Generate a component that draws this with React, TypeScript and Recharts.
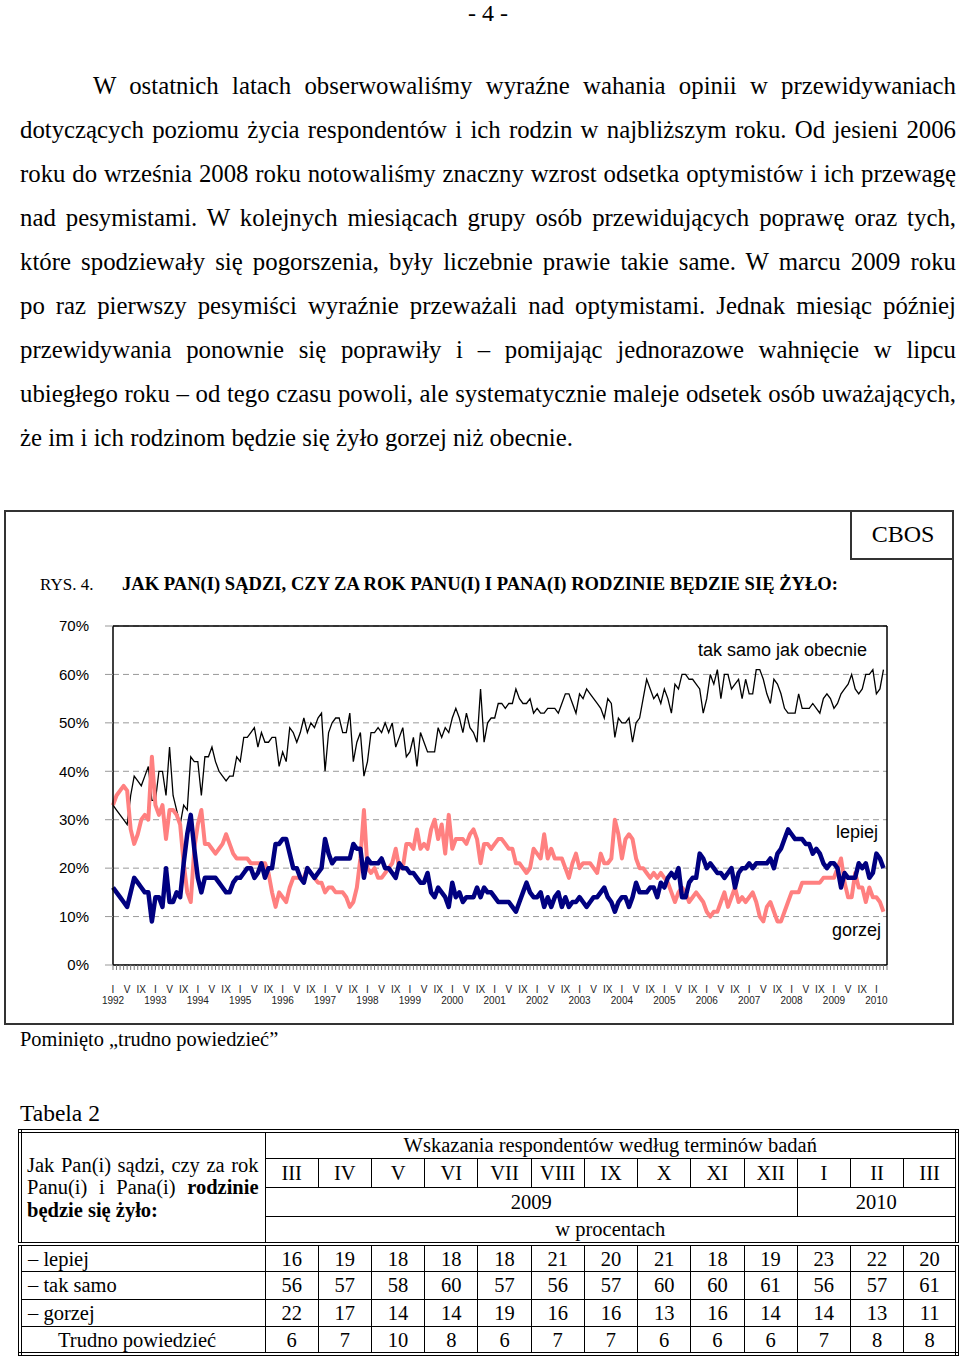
import React from "react"
import { LineChart, Line, XAxis, YAxis, CartesianGrid, ReferenceLine } from "recharts"

// monthly readings, I 1992 – III 2010 (one row per year)
const lepiej = [
  16, 15, 14, 13, 12, 15, 18, 17, 16, 15, 15, 9,
  14, 14, 12, 20, 13, 13, 15, 14, 21, 27, 31, 24,
  18, 15, 18, 18, 18, 18, 17, 16, 15, 15, 17, 18,
  18, 19, 20, 20, 18, 19, 21, 18, 20, 20, 25, 25,
  26, 26, 23, 20, 20, 18, 17, 20, 19, 18, 19, 20,
  26, 23, 21, 22, 22, 22, 22, 22, 25, 24, 24, 18,
  22, 21, 21, 21, 22, 20, 20, 19, 18, 21, 20, 20,
  19, 19, 18, 17, 17, 19, 15, 14, 16, 15, 14, 12,
  17, 14, 15, 13, 14, 14, 14, 16, 14, 16, 15, 15,
  14, 13, 13, 13, 13, 12, 11, 13, 15, 17, 15, 14,
  14, 15, 12, 14, 12, 14, 15, 12, 14, 12, 13, 13,
  14, 13, 12, 13, 14, 14, 15, 16, 14, 13, 11, 13,
  14, 14, 12, 14, 17, 15, 15, 15, 16, 16, 14, 17,
  16, 18, 19, 18, 20, 14, 14, 17, 18, 18, 23, 22,
  20, 21, 20, 19, 19, 18, 19, 20, 16, 19, 20, 20,
  21, 20, 21, 21, 21, 21, 22, 20, 23, 24, 26, 28,
  27, 26, 26, 26, 25, 25, 23, 24, 23, 21, 20, 21,
  21, 20, 16, 19, 18, 18, 18, 21, 20, 21, 18, 19,
  23, 22, 20,
]

const takSamo = [
  33, 32, 31, 30, 29, 35, 39, 38, 37, 39, 41, 34,
  34, 40, 40, 35, 45, 35, 32, 29, 33, 32, 43, 42,
  42, 35, 43, 43, 45, 42, 40, 39, 38, 39, 39, 43,
  42, 47, 47, 48, 49, 45, 48, 46, 46, 47, 47, 41,
  44, 42, 49, 48, 46, 48, 51, 48, 50, 49, 51, 52,
  40, 48, 50, 51, 51, 48, 48, 52, 42, 46, 48, 39,
  42, 48, 48, 49, 48, 50, 48, 50, 45, 47, 49, 43,
  44, 47, 41, 48, 46, 44, 44, 44, 49, 47, 49, 48,
  51, 53, 51, 48, 52, 49, 48, 46, 57, 46, 50, 51,
  51, 54, 54, 53, 54, 54, 57, 55, 54, 54, 55, 52,
  53, 52, 52, 53, 53, 53, 52, 54, 56, 56, 54, 52,
  56, 55, 57, 56, 55, 54, 53, 51, 55, 54, 47, 51,
  50, 50, 51, 46, 50, 51, 55, 59, 57, 55, 56, 54,
  57, 55, 52, 58, 57, 60, 60, 59, 59, 58, 57, 52,
  55, 60, 58, 61, 55, 60, 60, 57, 58, 59, 55, 59,
  56, 56, 61, 61, 59, 56, 54, 59, 58, 56, 53, 52,
  52, 52, 56, 53, 53, 53, 54, 53, 52, 55, 56, 55,
  53, 54, 56, 57, 58, 60, 57, 56, 57, 60, 60, 61,
  56, 57, 61,
]

const gorzej = [
  33, 35, 36, 37, 36, 28, 25, 27, 30, 31, 30, 43,
  33, 31, 33, 26, 32, 32, 31, 29, 21, 15, 13, 24,
  29, 32, 25, 25, 24, 23, 24, 25, 27, 25, 23, 22,
  22, 22, 22, 21, 21, 21, 21, 21, 19, 15, 12, 15,
  14, 13, 16, 18, 18, 18, 18, 20, 19, 18, 17, 17,
  15, 16, 16, 15, 15, 15, 14, 12, 13, 16, 22, 32,
  20, 19, 20, 18, 18, 19, 20, 21, 24, 20, 20, 25,
  25, 24, 28, 24, 25, 24, 28, 30, 26, 29, 23, 31,
  24, 26, 26, 26, 25, 27, 28, 26, 21, 25, 25, 24,
  25, 26, 26, 25, 24, 24, 21, 21, 20, 19, 20, 24,
  23, 22, 27, 22, 24, 22, 22, 22, 20, 18, 21, 23,
  20, 21, 21, 21, 20, 19, 23, 21, 21, 22, 30, 27,
  22, 26, 27, 26, 22, 20, 20, 19, 18, 19, 18, 19,
  18, 17, 15, 13, 15, 16, 15, 13, 14, 15, 14, 13,
  11, 10, 11, 11, 13, 15, 12, 14, 16, 13, 14, 13,
  14, 15, 13, 10, 9, 12, 13, 11, 9, 9, 11, 13,
  15, 15, 15, 17, 17, 17, 17, 17, 17, 18, 18, 18,
  18, 20, 22, 17, 14, 14, 19, 16, 16, 13, 16, 14,
  14, 13, 11,
]

const YEARS = [1992, 1993, 1994, 1995, 1996, 1997, 1998, 1999, 2000, 2001, 2002, 2003, 2004, 2005, 2006, 2007, 2008, 2009, 2010]
const MONTH_LABELS: Record<number, string> = { 0: "I", 4: "V", 8: "IX" }
const Y_TICKS = [0, 10, 20, 30, 40, 50, 60, 70]

// table 2
const tableMonths = ["III", "IV", "V", "VI", "VII", "VIII", "IX", "X", "XI", "XII", "I", "II", "III"]
const tableRows = [
  { label: "– lepiej", values: [16, 19, 18, 18, 18, 21, 20, 21, 18, 19, 23, 22, 20] },
  { label: "– tak samo", values: [56, 57, 58, 60, 57, 56, 57, 60, 60, 61, 56, 57, 61] },
  { label: "– gorzej", values: [22, 17, 14, 14, 19, 16, 16, 13, 16, 14, 14, 13, 11] },
  { label: "Trudno powiedzieć", values: [6, 7, 10, 8, 6, 7, 7, 6, 6, 6, 7, 8, 8], indent: true },
]

const paragraph = [
  "W ostatnich latach obserwowaliśmy wyraźne wahania opinii w przewidywaniach",
  "dotyczących poziomu życia respondentów i ich rodzin w najbliższym roku. Od jesieni 2006",
  "roku do września 2008 roku notowaliśmy znaczny wzrost odsetka optymistów i ich przewagę",
  "nad pesymistami. W kolejnych miesiącach grupy osób przewidujących poprawę oraz tych,",
  "które spodziewały się pogorszenia, były liczebnie prawie takie same. W marcu 2009 roku",
  "po raz pierwszy pesymiści wyraźnie przeważali nad optymistami. Jednak miesiąc później",
  "przewidywania ponownie się poprawiły i – pomijając jednorazowe wahnięcie w lipcu",
  "ubiegłego roku – od tego czasu powoli, ale systematycznie maleje odsetek osób uważających,",
  "że im i ich rodzinom będzie się żyło gorzej niż obecnie.",
]

const data = lepiej.map((v, i) => ({ m: i, lepiej: v, takSamo: takSamo[i], gorzej: gorzej[i] }))
const monthTicks = Array.from({ length: 220 }, (_, i) => i)

const SERIF = "'Liberation Serif', 'Times New Roman', serif"
const SANS = "'Liberation Sans', Arial, sans-serif"

function MonthTick(props: any) {
  const { x, payload } = props
  const m = payload.value
  const mi = m % 12
  const yi = Math.floor(m / 12)
  const label = MONTH_LABELS[mi]
  if (!label || yi >= YEARS.length) return <g />
  if (yi === YEARS.length - 1 && mi !== 0) return <g />
  return (
    <g>
      <text x={x} y={393} textAnchor="middle" fontSize={10} fontFamily={SANS} fill="#222">
        {label}
      </text>
      {mi === 0 && (
        <text x={x} y={404} textAnchor="middle" fontSize={10} fontFamily={SANS} fill="#222">
          {YEARS[yi]}
        </text>
      )}
    </g>
  )
}

const cell: React.CSSProperties = {
  border: "1px solid #000",
  padding: 0,
  textAlign: "center",
  fontSize: 20.5,
  lineHeight: "20px",
}

export default function App() {
  return (
    <div
      style={{
        position: "absolute",
        left: 0,
        top: 0,
        width: 960,
        height: 1361,
        background: "#fff",
        overflow: "hidden",
        fontFamily: SERIF,
        color: "#000",
      }}
    >
      <div style={{ position: "absolute", left: 0, width: 976, top: 0, lineHeight: "27px", textAlign: "center", fontSize: 24 }}>- 4 -</div>

      {paragraph.map((line, i) => (
        <div
          key={i}
          style={{
            position: "absolute",
            left: i === 0 ? 93 : 20,
            width: i === 0 ? 863 : 936,
            top: 86 + 44 * i - 22,
            height: 44,
            lineHeight: "44px",
            fontSize: 24.8,
            whiteSpace: "nowrap",
            textAlign: i === paragraph.length - 1 ? "left" : "justify",
            textAlignLast: i === paragraph.length - 1 ? "left" : "justify",
          }}
        >
          {line}
        </div>
      ))}

      {/* figure frame */}
      <div
        style={{
          position: "absolute",
          left: 4,
          top: 510,
          width: 950,
          height: 515,
          border: "2px solid #333",
          boxSizing: "border-box",
        }}
      />
      <div
        style={{
          position: "absolute",
          left: 850,
          top: 510,
          width: 104,
          height: 50,
          borderLeft: "2px solid #333",
          borderBottom: "2px solid #333",
          boxSizing: "border-box",
          textAlign: "center",
          lineHeight: "48px",
          fontSize: 24,
        }}
      >
        CBOS
      </div>
      <svg style={{ position: "absolute", left: 0, top: 570 }} width={960} height={30}>
        <text x={40} y={20} fontSize={17} fontFamily={SERIF}>
          RYS. 4.
        </text>
        <text x={122} y={20} fontSize={18.5} fontWeight="bold" fontFamily={SERIF} textLength={716} lengthAdjust="spacingAndGlyphs">
          JAK PAN(I) SĄDZI, CZY ZA ROK PANU(I) I PANA(I) RODZINIE BĘDZIE SIĘ ŻYŁO:
        </text>
      </svg>

      <div style={{ position: "absolute", left: 0, top: 600 }}>
        <LineChart width={900} height={420} data={data} margin={{ top: 26, right: 13, bottom: 10, left: 0 }}>
          <CartesianGrid vertical={false} stroke="#999" strokeDasharray="6 4" />
          <XAxis
            dataKey="m"
            type="number"
            domain={[0, 219]}
            ticks={monthTicks}
            interval={0}
            height={45}
            tick={MonthTick}
            tickSize={5}
            tickLine={{ stroke: "#777" }}
            axisLine={{ stroke: "#000", strokeWidth: 1.5 }}
          />
          <YAxis
            type="number"
            domain={[0, 70]}
            ticks={Y_TICKS}
            width={113}
            tickSize={8}
            tickMargin={16}
            tickFormatter={(v) => `${v}%`}
            tick={{ fontSize: 15, fontFamily: SANS, fill: "#000" }}
            tickLine={{ stroke: "#999" }}
            axisLine={{ stroke: "#000", strokeWidth: 1.5 }}
          />
          <ReferenceLine y={70} stroke="#000" strokeWidth={1.5} />
          <ReferenceLine x={219} stroke="#000" strokeWidth={1.5} />
          <Line type="linear" dataKey="takSamo" stroke="#000" strokeWidth={1.3} dot={false} isAnimationActive={false} />
          <Line type="linear" dataKey="gorzej" stroke="#FF8080" strokeWidth={4} dot={false} strokeLinejoin="round" isAnimationActive={false} />
          <Line type="linear" dataKey="lepiej" stroke="#000080" strokeWidth={4.5} dot={false} strokeLinejoin="round" isAnimationActive={false} />
        </LineChart>
      </div>

      <div style={{ position: "absolute", left: 698, top: 640, fontFamily: SANS, fontSize: 18, lineHeight: "20px" }}>tak samo jak obecnie</div>
      <div style={{ position: "absolute", left: 836, top: 822, fontFamily: SANS, fontSize: 18, lineHeight: "20px" }}>lepiej</div>
      <div style={{ position: "absolute", left: 832, top: 920, fontFamily: SANS, fontSize: 18, lineHeight: "20px" }}>gorzej</div>

      <div style={{ position: "absolute", left: 20, top: 1027, fontSize: 20.4, lineHeight: "24px" }}>Pominięto „trudno powiedzieć”</div>
      <div style={{ position: "absolute", left: 20, top: 1100, fontSize: 23.5, lineHeight: "26px" }}>Tabela 2</div>

      <table
        style={{
          position: "absolute",
          left: 18,
          top: 1129,
          width: 941,
          borderCollapse: "collapse",
          border: "4px double #000",
          tableLayout: "fixed",
          fontFamily: SERIF,
        }}
      >
        <colgroup>
          <col style={{ width: 244 }} />
          {tableMonths.map((_, i) => (
            <col key={i} style={{ width: 53 }} />
          ))}
        </colgroup>
        <tbody>
          <tr style={{ height: 27 }}>
            <td
              rowSpan={4}
              style={{ ...cell, textAlign: "left", verticalAlign: "middle", padding: "0 6px 0 5px", borderBottom: "4px double #000", lineHeight: "22.5px" }}
            >
              <div style={{ textAlign: "justify", textAlignLast: "justify" }}>Jak Pan(i) sądzi, czy za rok</div>
              <div style={{ textAlign: "justify", textAlignLast: "justify" }}>
                Panu(i) i Pana(i) <b>rodzinie</b>
              </div>
              <div>
                <b>będzie się żyło:</b>
              </div>
            </td>
            <td colSpan={13} style={cell}>
              Wskazania respondentów według terminów badań
            </td>
          </tr>
          <tr style={{ height: 29 }}>
            {tableMonths.map((m, i) => (
              <td key={i} style={cell}>
                {m}
              </td>
            ))}
          </tr>
          <tr style={{ height: 29 }}>
            <td colSpan={10} style={cell}>
              2009
            </td>
            <td colSpan={3} style={cell}>
              2010
            </td>
          </tr>
          <tr style={{ height: 28 }}>
            <td colSpan={13} style={{ ...cell, borderBottom: "4px double #000" }}>
              w procentach
            </td>
          </tr>
          {tableRows.map((r) => (
            <tr key={r.label} style={{ height: 27.5 }}>
              <td style={{ ...cell, textAlign: "left", paddingLeft: r.indent ? 36 : 6 }}>{r.label}</td>
              {r.values.map((v, i) => (
                <td key={i} style={cell}>
                  {v}
                </td>
              ))}
            </tr>
          ))}
        </tbody>
      </table>
    </div>
  )
}
